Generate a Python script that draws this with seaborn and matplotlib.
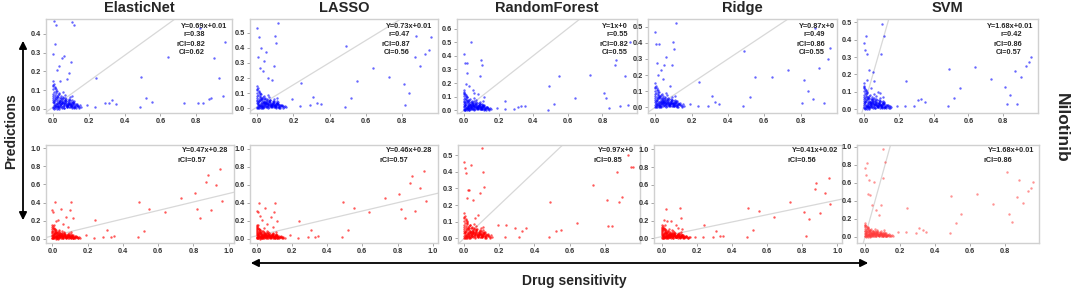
import numpy as np
import pandas as pd
import matplotlib
matplotlib.use("Agg")
import matplotlib.pyplot as plt
from matplotlib.ticker import FormatStrFormatter
from matplotlib.patches import FancyArrowPatch
import seaborn as sns

# ---------------- data ----------------
models = ["ElasticNet", "LASSO", "RandomForest", "Ridge", "SVM"]
drug = "Nilotinib"

# dense cluster near origin (shared cell lines)
clu_x = [
    0.000, 0.000, 0.000, 0.000, 0.000, 0.000, 0.000, 0.000, 0.000, 0.000,
    0.003, 0.005, 0.004, 0.008, 0.006, 0.011, 0.009, 0.013, 0.007, 0.015,
    0.012, 0.018, 0.014, 0.021, 0.017, 0.010, 0.024, 0.019, 0.016, 0.027,
    0.022, 0.030, 0.020, 0.026, 0.033, 0.023, 0.029, 0.036, 0.025, 0.032,
    0.039, 0.028, 0.035, 0.042, 0.031, 0.038, 0.045, 0.034, 0.041, 0.048,
    0.037, 0.044, 0.051, 0.040, 0.047, 0.054, 0.043, 0.050, 0.057, 0.046,
    0.053, 0.060, 0.049, 0.056, 0.063, 0.052, 0.059, 0.066, 0.055, 0.062,
    0.069, 0.058, 0.065, 0.072, 0.061, 0.068, 0.075, 0.064, 0.071, 0.078,
    0.067, 0.074, 0.081, 0.070, 0.077, 0.084, 0.073, 0.080, 0.087, 0.076,
    0.083, 0.090, 0.079, 0.086, 0.093, 0.082, 0.089, 0.096, 0.085, 0.092,
    0.099, 0.088, 0.095, 0.102, 0.091, 0.098, 0.105, 0.094, 0.101, 0.108,
    0.097, 0.104, 0.111, 0.100, 0.107, 0.114, 0.103, 0.110, 0.117, 0.106,
    0.113, 0.120, 0.109, 0.116, 0.123, 0.112, 0.119, 0.127, 0.118, 0.131,
    0.122, 0.136, 0.126, 0.141, 0.133, 0.147, 0.138, 0.152, 0.145, 0.158,
    0.004, 0.012, 0.021, 0.008, 0.017, 0.026, 0.002, 0.035, 0.014, 0.044,
    0.006, 0.023, 0.052, 0.031, 0.009, 0.040, 0.019, 0.061, 0.028, 0.001,
]
clu_y = [
    0.012, 0.035, 0.058, 0.081, 0.104, 0.127, 0.005, 0.046, 0.069, 0.150,
    0.022, 0.041, 0.008, 0.063, 0.030, 0.017, 0.052, 0.074, 0.038, 0.026,
    0.047, 0.011, 0.085, 0.033, 0.058, 0.020, 0.040, 0.095, 0.015, 0.062,
    0.028, 0.049, 0.071, 0.009, 0.036, 0.055, 0.024, 0.043, 0.018, 0.031,
    0.060, 0.014, 0.039, 0.027, 0.078, 0.021, 0.045, 0.010, 0.033, 0.052,
    0.019, 0.068, 0.030, 0.041, 0.012, 0.057, 0.025, 0.036, 0.088, 0.016,
    0.044, 0.023, 0.034, 0.065, 0.007, 0.039, 0.029, 0.050, 0.018, 0.027,
    0.036, 0.013, 0.048, 0.022, 0.031, 0.059, 0.017, 0.040, 0.026, 0.011,
    0.075, 0.032, 0.020, 0.043, 0.014, 0.028, 0.054, 0.009, 0.037, 0.023,
    0.030, 0.046, 0.016, 0.025, 0.062, 0.019, 0.034, 0.010, 0.041, 0.028,
    0.015, 0.052, 0.024, 0.038, 0.008, 0.021, 0.030, 0.045, 0.013, 0.070,
    0.026, 0.011, 0.035, 0.019, 0.048, 0.029, 0.006, 0.022, 0.040, 0.017,
    0.032, 0.014, 0.027, 0.009, 0.020, 0.037, 0.012, 0.024, 0.005, 0.018,
    0.010, 0.026, 0.004, 0.015, 0.021, 0.008, 0.013, 0.019, 0.003, 0.011,
    0.090, 0.110, 0.065, 0.118, 0.098, 0.072, 0.135, 0.083, 0.105, 0.060,
    0.002, 0.014, 0.007, 0.001, 0.003, 0.009, 0.000, 0.005, 0.004, 0.120,
]

# high-prediction points at low sensitivity
col_x = [0.0, 0.005, 0.01, 0.015, 0.02, 0.03, 0.04, 0.05, 0.06, 0.08, 0.09, 0.1, 0.105, 0.115]
en_top_col = [0.295, 0.47, 0.345, 0.45, 0.21, 0.23, 0.15, 0.27, 0.28, 0.16, 0.19, 0.25, 0.465, 0.45]
lasso_top_col = [0.53, 0.34, 0.47, 0.265, 0.40, 0.25, 0.31, 0.37, 0.20, 0.185, 0.28, 0.48, 0.43, 0.565]
rf_top_col = [0.41, 0.35, 0.195, 0.275, 0.345, 0.18, 0.50, 0.15, 0.13, 0.12, 0.255, 0.37, 0.335, 0.10]
ridge_top_col = [0.47, 0.39, 0.275, 0.20, 0.39, 0.23, 0.175, 0.26, 0.31, 0.13, 0.265, 0.405, 0.36, 0.525]
svm_top_col = [0.38, 0.34, 0.42, 0.165, 0.32, 0.225, 0.12, 0.215, 0.16, 0.10, 0.09, 0.32, 0.49, 0.42]
en_bot_col = [0.32, 0.29, 0.15, 0.41, 0.20, 0.21, 0.10, 0.33, 0.16, 0.24, 0.13, 0.32, 0.41, 0.225]
lasso_bot_col = [0.31, 0.29, 0.15, 0.40, 0.25, 0.21, 0.12, 0.34, 0.16, 0.24, 0.13, 0.30, 0.40, 0.20]
rf_bot_col = [0.46, 0.42, 0.39, 0.24, 0.29, 0.29, 0.44, 0.23, 0.12, 0.14, 0.27, 0.54, 0.40, 0.31]
ridge_bot_col = [0.095, 0.12, 0.21, 0.15, 0.33, 0.20, 0.10, 0.20, 0.08, 0.15, 0.12, 0.34, 0.225, 0.10]
svm_bot_col = [0.76, 0.69, 0.82, 0.48, 0.63, 0.46, 0.35, 0.61, 0.30, 0.24, 0.35, 0.65, 0.97, 0.83]

# sensitive cell lines (spread along x)
out_x = [0.19, 0.235, 0.24, 0.29, 0.31, 0.33, 0.35, 0.485, 0.49, 0.52, 0.55,
         0.64, 0.73, 0.81, 0.82, 0.84, 0.87, 0.88, 0.90, 0.93, 0.95, 0.96]
en_top_out = [0.02, 0.01, 0.165, 0.03, 0.03, 0.045, 0.025, 0.01, 0.17, 0.06, 0.035,
              0.275, 0.03, 0.03, 0.43, 0.03, 0.055, 0.06, 0.27, 0.165, 0.07, 0.355]
lasso_top_out = [0.06, 0.015, 0.17, 0.02, 0.075, 0.035, 0.03, 0.01, 0.41, 0.07, 0.18,
                 0.265, 0.21, 0.16, 0.02, 0.10, 0.34, 0.48, 0.28, 0.36, 0.385, 0.47]
rf_top_out = [0.02, 0.01, 0.065, 0.01, 0.025, 0.03, 0.03, 0.005, 0.18, 0.045, 0.255,
              0.09, 0.26, 0.13, 0.09, 0.02, 0.33, 0.37, 0.03, 0.25, 0.04, 0.50]
ridge_top_out = [0.02, 0.01, 0.16, 0.01, 0.07, 0.035, 0.02, 0.01, 0.35, 0.065, 0.19,
                 0.19, 0.23, 0.03, 0.17, 0.10, 0.05, 0.49, 0.245, 0.03, 0.30, 0.37]
svm_top_out = [0.02, 0.015, 0.16, 0.015, 0.05, 0.055, 0.04, 0.015, 0.23, 0.065, 0.12,
               0.24, 0.175, 0.125, 0.03, 0.08, 0.22, 0.03, 0.185, 0.25, 0.27, 0.30]
en_bot_out = [0.04, 0.01, 0.21, 0.015, 0.10, 0.02, 0.03, 0.015, 0.41, 0.09, 0.33,
              0.29, 0.455, 0.51, 0.33, 0.23, 0.625, 0.71, 0.32, 0.59, 0.77, 0.42]
lasso_bot_out = [0.04, 0.01, 0.19, 0.015, 0.10, 0.02, 0.03, 0.015, 0.41, 0.09, 0.34,
                 0.29, 0.45, 0.50, 0.33, 0.23, 0.62, 0.69, 0.31, 0.56, 0.75, 0.42]
rf_bot_out = [0.08, 0.01, 0.08, 0.065, 0.01, 0.045, 0.06, 0.01, 0.22, 0.045, 0.05,
              0.095, 0.32, 0.23, 0.075, 0.075, 0.40, 0.22, 0.25, 0.50, 0.43, 0.43]
ridge_bot_out = [0.01, 0.01, 0.15, 0.01, 0.085, 0.03, 0.03, 0.01, 0.345, 0.095, 0.31,
                 0.24, 0.41, 0.30, 0.03, 0.215, 0.555, 0.625, 0.29, 0.515, 0.675, 0.39]
svm_bot_out = [0.05, 0.055, 0.32, 0.045, 0.10, 0.08, 0.05, 0.04, 0.45, 0.15, 0.25,
               0.48, 0.36, 0.72, 0.25, 0.165, 0.44, 0.63, 0.37, 0.51, 0.545, 0.61]

# fitted lines as drawn
top_slope = [0.69, 0.73, 1.0, 0.75, 3.5]
top_icpt = [0.01, 0.01, 0.0, 0.0, 0.02]
bot_slope = [0.47, 0.46, 1.0, 0.41, 7.0]
bot_icpt = [0.03, 0.03, 0.0, 0.02, 0.0]

# annotation texts
top_eq = ["Y=0.69x+0.01", "Y=0.73x+0.01", "Y=1x+0", "Y=0.87x+0", "Y=1.68x+0.01"]
top_r = ["r=0.38", "r=0.47", "r=0.55", "r=0.49", "r=0.42"]
top_rci = ["rCI=0.82", "rCI=0.87", "rCI=0.82", "rCI=0.86", "rCI=0.86"]
top_ci = ["CI=0.62", "CI=0.56", "CI=0.55", "CI=0.55", "CI=0.57"]
bot_eq = ["Y=0.47x+0.28", "Y=0.46x+0.28", "Y=0.97x+0", "Y=0.41x+0.02", "Y=1.68x+0.01"]
bot_rci = ["rCI=0.57", "rCI=0.57", "rCI=0.85", "rCI=0.56", "rCI=0.86"]

# tick labels
xt_short = [0.0, 0.2, 0.4, 0.6, 0.8]
xt_long = [0.0, 0.2, 0.4, 0.6, 0.8, 1.0]
yt_04 = [0.0, 0.1, 0.2, 0.3, 0.4]
yt_05 = [0.0, 0.1, 0.2, 0.3, 0.4, 0.5]
yt_06 = [0.0, 0.1, 0.2, 0.3, 0.4, 0.5, 0.6]
yt_10 = [0.0, 0.2, 0.4, 0.6, 0.8, 1.0]

top_cols = [en_top_col, lasso_top_col, rf_top_col, ridge_top_col, svm_top_col]
bot_cols = [en_bot_col, lasso_bot_col, rf_bot_col, ridge_bot_col, svm_bot_col]
top_outs = [en_top_out, lasso_top_out, rf_top_out, ridge_top_out, svm_top_out]
bot_outs = [en_bot_out, lasso_bot_out, rf_bot_out, ridge_bot_out, svm_bot_out]
top_xt = [xt_short] * 5
top_yt = [yt_04, yt_05, yt_06, yt_05, yt_05]
bot_xt = [xt_long, xt_long, xt_short, xt_long, xt_short]
bot_yt = [yt_10, yt_10, yt_05, yt_10, yt_10]

# ---------------- layout (pixels) ----------------
W, H = 1072, 290
top_x = [(46, 232), (250, 438), (457, 637), (648, 837), (857, 1038)]
bot_x = [(46, 234), (250, 438), (458, 640), (654, 842), (857, 1039)]
top_y = (19, 113)
bot_y = (145, 243)
top_xlim = [(-0.04, 1.0)] * 5
top_ylim = [(-0.022, 0.48), (-0.03, 0.59), (-0.02, 0.67), (-0.035, 0.548), (-0.023, 0.52)]
bot_xlim = [(-0.036, 1.03), (-0.038, 1.03), (-0.035, 1.0), (-0.047, 1.027), (-0.046, 0.994)]
bot_ylim = [(-0.048, 1.037), (-0.05, 1.04), (-0.028, 0.56), (-0.053, 1.05), (-0.07, 1.02)]
top_txt_r1 = [227, 432, 628, 835, 1033]
top_txt_r2 = [205, 410, 628, 825, 1022]
bot_txt_r1 = [228, 432, 634, 838, 1034]
bot_txt_r2 = [206, 408, 622, 816, 1012]

sns.set_theme(style="white")
plt.rcParams["font.family"] = ["Liberation Sans", "DejaVu Sans"]
plt.rcParams["font.weight"] = "bold"

fig = plt.figure(figsize=(W / 100, H / 100), dpi=100)
fig.patch.set_facecolor("white")


def fx(px):
    return px / W


def fy(py):
    return 1 - py / H


def make_axes(xr, yr):
    return fig.add_axes([fx(xr[0]), fy(yr[1]), (xr[1] - xr[0]) / W, (yr[1] - yr[0]) / H])


def style_axes(ax, xlim, ylim, xt, yt):
    ax.set_xticks(xt)
    ax.set_yticks(yt)
    ax.set_xlim(*xlim)
    ax.set_ylim(*ylim)
    ax.xaxis.set_major_formatter(FormatStrFormatter("%.1f"))
    ax.yaxis.set_major_formatter(FormatStrFormatter("%.1f"))
    for sp in ax.spines.values():
        sp.set_color("#d0d0d0")
        sp.set_linewidth(1.0)
    ax.tick_params(axis="both", which="major", length=2, width=0.6, color="#999999",
                   labelsize=5.3, labelcolor="#333333", pad=1.5, left=True, bottom=True)
    for lab in ax.get_xticklabels() + ax.get_yticklabels():
        lab.set_fontweight("bold")
    ax.set_xlabel("")
    ax.set_ylabel("")
    ax.grid(False)


def panel(ax, col_y, out_y, color, alpha, slope, icpt):
    df = pd.DataFrame({
        "sens": list(clu_x) + list(col_x) + list(out_x),
        "pred": list(clu_y) + list(col_y) + list(out_y),
    })
    ax.axline((0, icpt), slope=slope, color="#d8d8d8", lw=0.9, zorder=1)
    sns.scatterplot(data=df, x="sens", y="pred", ax=ax, color=color, s=3,
                    linewidth=0, alpha=alpha, zorder=2, legend=False)


for i, m in enumerate(models):
    # top row (blue)
    ax = make_axes(top_x[i], top_y)
    panel(ax, top_cols[i], top_outs[i], "#0000ff", 0.6, top_slope[i], top_icpt[i])
    style_axes(ax, top_xlim[i], top_ylim[i], top_xt[i], top_yt[i])
    fig.text(fx(top_txt_r1[i]), fy(26), top_eq[i], ha="right", va="center", fontsize=5.3, fontweight="bold")
    fig.text(fx(top_txt_r2[i]), fy(35), top_r[i], ha="right", va="center", fontsize=5.3, fontweight="bold")
    fig.text(fx(top_txt_r2[i]), fy(44), top_rci[i], ha="right", va="center", fontsize=5.3, fontweight="bold")
    fig.text(fx(top_txt_r2[i]), fy(53), top_ci[i], ha="right", va="center", fontsize=5.3, fontweight="bold")
    fig.text(fx((top_x[i][0] + top_x[i][1]) / 2), fy(8), m, ha="center", va="center",
             fontsize=10.5, fontweight="bold")

    # bottom row (red)
    ax = make_axes(bot_x[i], bot_y)
    red = "#ff3b3b" if m == "SVM" else "#ff0000"
    panel(ax, bot_cols[i], bot_outs[i], red, 0.55 if m == "SVM" else 0.65, bot_slope[i], bot_icpt[i])
    style_axes(ax, bot_xlim[i], bot_ylim[i], bot_xt[i], bot_yt[i])
    fig.text(fx(bot_txt_r1[i]), fy(151), bot_eq[i], ha="right", va="center", fontsize=5.3, fontweight="bold")
    fig.text(fx(bot_txt_r2[i]), fy(160), bot_rci[i], ha="right", va="center", fontsize=5.3, fontweight="bold")

# global labels and arrows
fig.text(fx(11), fy(131), "Predictions", rotation=90, ha="center", va="center",
         fontsize=10, fontweight="bold")
fig.text(fx(1061), fy(128), drug, rotation=270, ha="center", va="center",
         fontsize=12.5, fontweight="bold")
fig.text(fx(574), fy(281), "Drug sensitivity", ha="center", va="center",
         fontsize=10, fontweight="bold")

fig.add_artist(FancyArrowPatch((fx(23), fy(223)), (fx(23), fy(38)), transform=fig.transFigure,
                               arrowstyle="<|-|>,head_length=3,head_width=1.5", lw=1.3, color="black",
                               mutation_scale=1.5))
fig.add_artist(FancyArrowPatch((fx(248), fy(263)), (fx(871), fy(263)), transform=fig.transFigure,
                               arrowstyle="<|-|>,head_length=3,head_width=1.5", lw=1.3, color="black",
                               mutation_scale=1.5))

fig.savefig("out.png", dpi=100, facecolor="white")
